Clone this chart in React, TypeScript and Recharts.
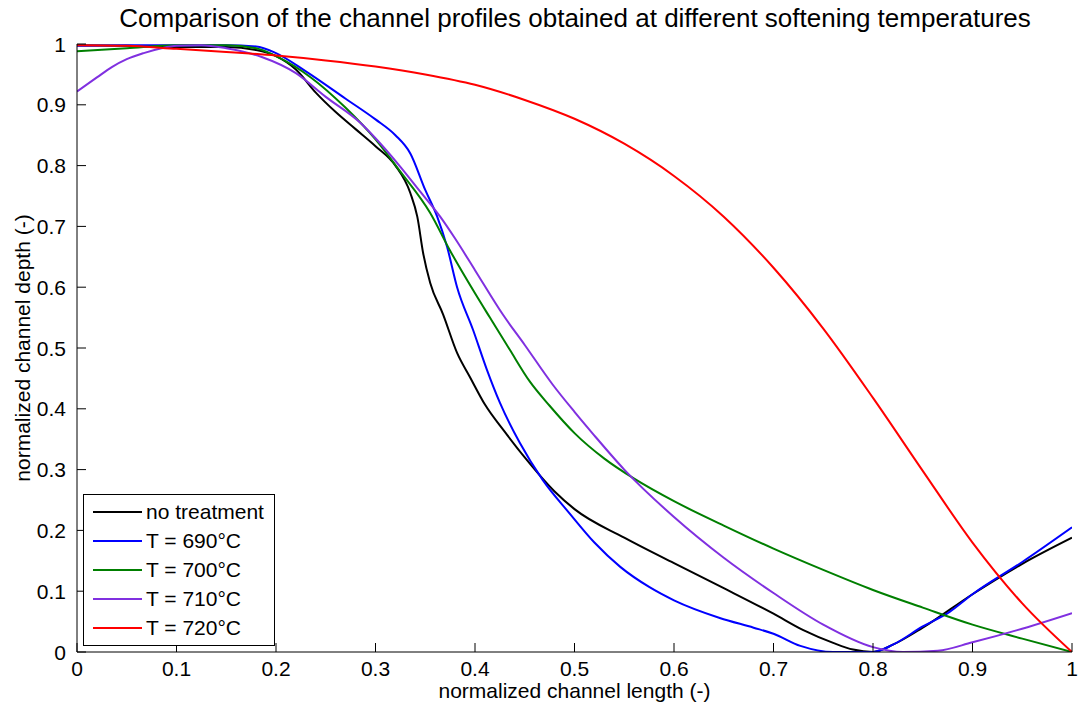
import React from 'react';
import { LineChart, Line, XAxis, YAxis, Legend, Label } from 'recharts';

// ---- data ----
const noTreatmentX = [0, 0.05, 0.1, 0.15, 0.18, 0.2, 0.22, 0.24, 0.26, 0.28, 0.3, 0.32, 0.335, 0.342, 0.348, 0.355, 0.368, 0.382, 0.395, 0.41, 0.43, 0.45, 0.48, 0.5, 0.55, 0.6, 0.65, 0.7, 0.73, 0.76, 0.78, 0.8, 0.82, 0.85, 0.9, 0.95, 1.0];
const noTreatmentY = [0.998, 0.997, 0.995, 0.995, 0.99, 0.98, 0.958, 0.92, 0.888, 0.86, 0.832, 0.8, 0.755, 0.716, 0.655, 0.607, 0.555, 0.492, 0.452, 0.407, 0.362, 0.32, 0.264, 0.235, 0.188, 0.146, 0.105, 0.063, 0.036, 0.015, 0.004, 0.0, 0.012, 0.04, 0.095, 0.145, 0.188];

const t690X = [0, 0.05, 0.1, 0.15, 0.18, 0.2, 0.23, 0.27, 0.3, 0.32, 0.335, 0.35, 0.362, 0.372, 0.382, 0.398, 0.412, 0.425, 0.445, 0.468, 0.495, 0.52, 0.546, 0.575, 0.6, 0.646, 0.68, 0.7, 0.727, 0.76, 0.8, 0.82, 0.85, 0.877, 0.9, 0.95, 1.0];
const t690Y = [0.997, 0.998, 0.998, 0.998, 0.996, 0.985, 0.955, 0.91, 0.876, 0.85, 0.82, 0.76, 0.716, 0.666, 0.6, 0.53, 0.464, 0.41, 0.344, 0.283, 0.228, 0.18, 0.14, 0.107, 0.085, 0.056, 0.04, 0.03, 0.01, 0.0, 0.0, 0.012, 0.042, 0.066, 0.095, 0.148, 0.205];

const t700X = [0, 0.05, 0.1, 0.15, 0.18, 0.2, 0.235, 0.27, 0.3, 0.325, 0.355, 0.375, 0.4, 0.415, 0.435, 0.455, 0.475, 0.5, 0.53, 0.56, 0.6, 0.65, 0.7, 0.75, 0.8, 0.85, 0.9, 0.95, 1.0];
const t700Y = [0.988, 0.993, 0.998, 0.998, 0.993, 0.98, 0.945, 0.895, 0.843, 0.79, 0.722, 0.66, 0.59, 0.55, 0.497, 0.445, 0.405, 0.36, 0.318, 0.285, 0.248, 0.208, 0.17, 0.135, 0.102, 0.073, 0.045, 0.022, 0.0];

const t710X = [0, 0.02, 0.035, 0.05, 0.067, 0.085, 0.1, 0.125, 0.15, 0.185, 0.22, 0.25, 0.285, 0.3, 0.325, 0.345, 0.365, 0.38, 0.4, 0.428, 0.45, 0.478, 0.5, 0.52, 0.55, 0.6, 0.65, 0.7, 0.75, 0.8, 0.83, 0.865, 0.9, 0.945, 1.0];
const t710Y = [0.922, 0.945, 0.962, 0.975, 0.985, 0.993, 0.997, 0.998, 0.993, 0.979, 0.952, 0.913, 0.87, 0.845, 0.798, 0.757, 0.716, 0.68, 0.628, 0.555, 0.505, 0.44, 0.395, 0.356, 0.3, 0.222, 0.155, 0.097, 0.045, 0.008, 0.0, 0.002, 0.016, 0.036, 0.064];

const t720X = [0, 0.05, 0.1, 0.15, 0.2, 0.25, 0.3, 0.35, 0.4, 0.45, 0.5, 0.55, 0.6, 0.65, 0.7, 0.75, 0.8, 0.85, 0.9, 0.95, 1.0];
const t720Y = [0.998, 0.997, 0.992, 0.987, 0.981, 0.973, 0.963, 0.95, 0.933, 0.908, 0.877, 0.836, 0.783, 0.716, 0.632, 0.532, 0.418, 0.298, 0.18, 0.08, 0.0];

const seriesNames = ['no treatment', 'T = 690°C', 'T = 700°C', 'T = 710°C', 'T = 720°C'];
const seriesColors = ['#000000', '#0000ff', '#007f00', '#8030e0', '#ff0000'];

const xTicks = [0, 0.1, 0.2, 0.3, 0.4, 0.5, 0.6, 0.7, 0.8, 0.9, 1];
const yTicks = [0, 0.1, 0.2, 0.3, 0.4, 0.5, 0.6, 0.7, 0.8, 0.9, 1];

const titleText = 'Comparison of the channel profiles obtained at different softening temperatures';
const xLabelText = 'normalized channel length (-)';
const yLabelText = 'normalized channel depth (-)';

const toPoints = (xs: number[], ys: number[]) => xs.map((x, i) => ({ x, y: ys[i] }));
const seriesData = [
  toPoints(noTreatmentX, noTreatmentY),
  toPoints(t690X, t690Y),
  toPoints(t700X, t700Y),
  toPoints(t710X, t710Y),
  toPoints(t720X, t720Y),
];

const FONT = '"Liberation Sans", Arial, Helvetica, sans-serif';
const TICK_FONT = 21;
const X_TICK_MARGIN = 8;
const Y_TICK_MARGIN = 11;
const INNER_TICK = 9;

const fmt = (v: number) => (v === 0 ? '0' : v === 1 ? '1' : String(Number(v.toFixed(1))));

const XTick = (props: any) => {
  const { x, y, payload } = props;
  const axisY = y - X_TICK_MARGIN;
  return (
    <g>
      <line x1={x} x2={x} y1={axisY} y2={axisY - INNER_TICK} stroke="#000" strokeWidth={1} />
      <text x={x} y={y} dy="0.75em" textAnchor="middle" fill="#000" fontSize={TICK_FONT} fontFamily={FONT}>
        {fmt(payload.value)}
      </text>
    </g>
  );
};

const YTick = (props: any) => {
  const { x, y, payload } = props;
  const axisX = x + Y_TICK_MARGIN;
  return (
    <g>
      <line x1={axisX} x2={axisX + INNER_TICK} y1={y} y2={y} stroke="#000" strokeWidth={1} />
      <text x={x} y={y} dy="0.36em" textAnchor="end" fill="#000" fontSize={TICK_FONT} fontFamily={FONT}>
        {fmt(payload.value)}
      </text>
    </g>
  );
};

const LegendBox = (props: any) => {
  const payload = [...(props.payload || [])].sort(
    (a: any, b: any) => seriesNames.indexOf(a.value) - seriesNames.indexOf(b.value)
  );
  return (
    <div
      style={{
        border: '1px solid #000',
        background: '#fff',
        boxSizing: 'border-box',
        width: 192,
        height: 152,
        paddingTop: 3,
        fontFamily: FONT,
        fontSize: 21,
        color: '#000',
      }}
    >
      {payload.map((p: any, i: number) => (
        <div key={i} style={{ display: 'flex', alignItems: 'center', height: 28.8 }}>
          <div style={{ width: 49, height: 2, background: p.color, marginLeft: 9, marginRight: 4 }} />
          <span style={{ lineHeight: '28px', whiteSpace: 'nowrap' }}>{p.value}</span>
        </div>
      ))}
    </div>
  );
};

export default function App() {
  return (
    <div style={{ position: 'absolute', left: 0, top: 0, width: 1079, height: 715, background: '#fff' }}>
      <div
        style={{
          position: 'absolute',
          left: 0,
          top: 2,
          width: 1150,
          textAlign: 'center',
          fontFamily: FONT,
          fontSize: 26,
          lineHeight: '32px',
          color: '#000',
          whiteSpace: 'nowrap',
        }}
      >
        {titleText}
      </div>
      <LineChart
        width={1079}
        height={715}
        margin={{ top: 44, right: 7, bottom: 33, left: 37 }}
        style={{ position: 'absolute', left: 0, top: 0 }}
      >
        <XAxis
          type="number"
          dataKey="x"
          domain={[0, 1]}
          ticks={xTicks}
          height={30}
          tickSize={0}
          tickMargin={X_TICK_MARGIN}
          axisLine={{ stroke: '#000', strokeWidth: 1 }}
          tickLine={false}
          tick={<XTick />}
          interval={0}
          allowDataOverflow
        >
          <Label value={xLabelText} position="bottom" offset={1} style={{ fill: '#000', fontSize: 21, fontFamily: FONT }} />
        </XAxis>
        <YAxis
          type="number"
          domain={[0, 1]}
          ticks={yTicks}
          width={40}
          tickSize={0}
          tickMargin={Y_TICK_MARGIN}
          axisLine={{ stroke: '#000', strokeWidth: 1 }}
          tickLine={false}
          tick={<YTick />}
          interval={0}
          allowDataOverflow
        >
          <Label
            content={(p: any) => {
              const vb = p.viewBox || { x: 37, y: 44, width: 40, height: 608 };
              const cx = vb.x - 15;
              const cy = vb.y + vb.height / 2;
              return (
                <text
                  x={cx}
                  y={cy}
                  transform={`rotate(-90 ${cx} ${cy})`}
                  textAnchor="middle"
                  dominantBaseline="central"
                  fill="#000"
                  fontSize={21}
                  fontFamily={FONT}
                >
                  {yLabelText}
                </text>
              );
            }}
          />
        </YAxis>
        {seriesData.map((d, i) => (
          <Line
            key={seriesNames[i]}
            data={d}
            dataKey="y"
            name={seriesNames[i]}
            stroke={seriesColors[i]}
            strokeWidth={2}
            dot={false}
            type="monotone"
            isAnimationActive={false}
          />
        ))}
        <Legend
          layout="vertical"
          align="center"
          verticalAlign="middle"
          content={<LegendBox />}
          wrapperStyle={{ position: 'absolute', left: 83, top: 494, width: 192, height: 152 }}
        />
      </LineChart>
    </div>
  );
}
